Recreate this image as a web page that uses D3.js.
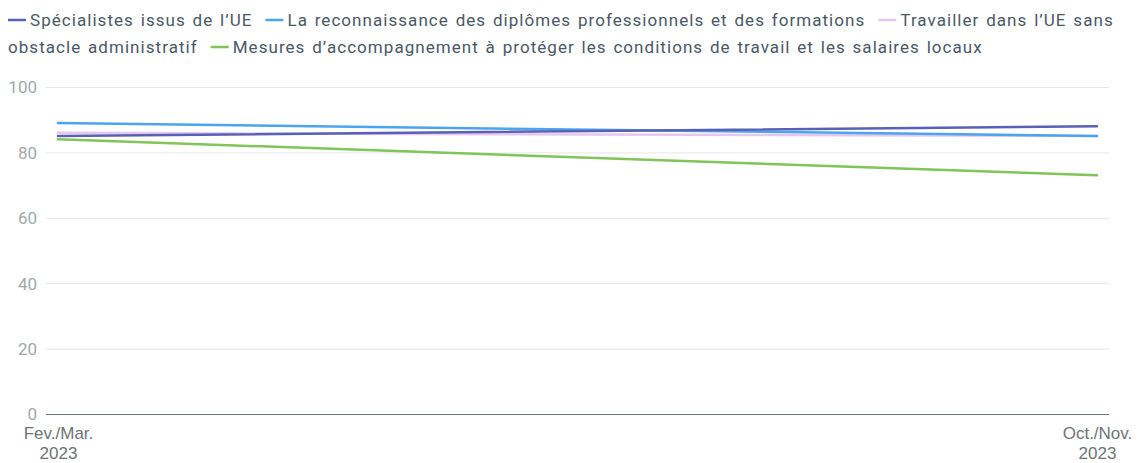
<!DOCTYPE html>
<html>
<head>
<meta charset="utf-8">
<script src="https://cdn.jsdelivr.net/npm/d3@7"></script>
<style>
  body { margin: 0; background: #fff; }
  svg { display: block; font-family: Roboto, "Noto Sans", sans-serif; }
</style>
</head>
<body>
<div id="chart"></div>
<script>
var width = 1138,
    height = 463;

var periods = ["Fev./Mar. 2023", "Oct./Nov. 2023"];
var seriesNames = [
  "Spécialistes issus de l’UE",
  "La reconnaissance des diplômes professionnels et des formations",
  "Travailler dans l’UE sans obstacle administratif",
  "Mesures d’accompagnement à protéger les conditions de travail et les salaires locaux"
];
var seriesColors = ["#5a60b4", "#4ba4ee", "#e6c8ee", "#82c35a"];
var specialistes = [85, 88];
var reconnaissance = [89, 85];
var travailler = [86, 85];
var mesures = [84, 73];
var yTicks = [0, 20, 40, 60, 80, 100];

var values = [specialistes, reconnaissance, travailler, mesures];

var svg = d3.select("#chart").append("svg")
    .attr("width", width)
    .attr("height", height);

var plotLeft = 46, plotRight = 1109, plotTop = 87, plotBottom = 414;

var x = d3.scalePoint()
    .domain(periods)
    .range([58, 1097]);

var y = d3.scaleLinear()
    .domain([0, 100])
    .range([plotBottom, plotTop]);

// grid
svg.append("g").selectAll("line")
    .data(yTicks.filter(function (d) { return d > 0; }))
    .enter().append("line")
    .attr("x1", plotLeft).attr("x2", plotRight)
    .attr("y1", function (d) { return y(d) + 0.5; })
    .attr("y2", function (d) { return y(d) + 0.5; })
    .style("stroke", "#e6e6e6")
    .style("stroke-width", 1);

// y labels
var yAxis = svg.append("g")
    .attr("transform", "translate(37,0)")
    .call(d3.axisLeft(y).tickValues(yTicks).tickSize(0).tickPadding(0));
yAxis.select(".domain").remove();
yAxis.selectAll("text")
    .attr("font-size", "17px")
    .attr("font-family", "Roboto, sans-serif")
    .attr("fill", "#a3a8ad")
    .attr("dy", "0.35em");

// x axis
var xAxis = svg.append("g")
    .attr("transform", "translate(0," + plotBottom + ")")
    .call(d3.axisBottom(x).tickSize(0).tickFormat(""));
xAxis.select(".domain").remove();
svg.append("line")
    .attr("x1", plotLeft).attr("x2", plotRight)
    .attr("y1", plotBottom + 0.5).attr("y2", plotBottom + 0.5)
    .style("stroke", "#6b7b8a")
    .style("stroke-width", 1.2);

xAxis.selectAll(".tick").each(function (d) {
    var parts = d.split(" ");
    var t = d3.select(this).append("text")
        .attr("text-anchor", "middle")
        .attr("font-size", "17px")
        .attr("fill", "#6e7378");
    t.append("tspan").attr("x", 0).attr("y", 25).text(parts[0]);
    t.append("tspan").attr("x", 0).attr("y", 45).text(parts[1]);
});

// lines
var line = d3.line()
    .x(function (d, i) { return x(periods[i]); })
    .y(function (d) { return y(d); });

var order = [3, 2, 1, 0];
svg.append("g").selectAll("path")
    .data(order)
    .enter().append("path")
    .attr("d", function (k) { return line(values[k]); })
    .style("fill", "none")
    .style("stroke", function (k) { return seriesColors[k]; })
    .style("stroke-width", 2.5)
    .style("stroke-linecap", "round");

// legend, wrapped word by word
var legend = svg.append("g")
    .attr("font-size", "17px")
    .attr("letter-spacing", "1.05px")
    .attr("word-spacing", "1.5px")
    .attr("fill", "#4a5866");
var measure = legend.append("text").attr("visibility", "hidden");
function textWidth(s) { measure.text(s); return measure.node().getComputedTextLength(); }

var maxX = 1122, lineH = 27, cx = 8, row = 0, baseY = 26;
seriesNames.forEach(function (name, k) {
    if (k > 0) cx += 13;
    var words = name.split(" ");
    var symW = 18, symGap = 4;
    var firstW = textWidth(words[0]);
    if (cx + symW + symGap + firstW > maxX) { row++; cx = 8; }
    legend.append("line")
        .attr("x1", cx).attr("x2", cx + symW)
        .attr("y1", baseY + row * lineH - 6).attr("y2", baseY + row * lineH - 6)
        .style("stroke", seriesColors[k])
        .style("stroke-width", 2.5);
    cx += symW + symGap;
    var cur = "", startX = cx;
    words.forEach(function (w, i) {
        var trial = cur ? cur + " " + w : w;
        if (startX + textWidth(trial) > maxX && cur) {
            legend.append("text").attr("x", startX).attr("y", baseY + row * lineH).text(cur);
            row++; startX = 8; cur = w;
        } else {
            cur = trial;
        }
    });
    legend.append("text").attr("x", startX).attr("y", baseY + row * lineH).text(cur);
    cx = startX + textWidth(cur);
});
measure.remove();
</script>
</body>
</html>
